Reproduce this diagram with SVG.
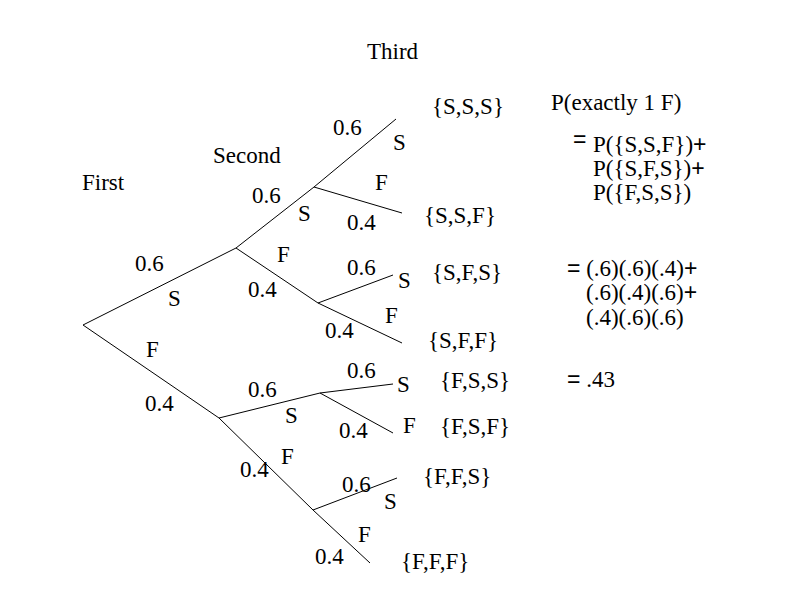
<svg xmlns="http://www.w3.org/2000/svg" width="792" height="612" viewBox="0 0 792 612">
<style>
text{font-family:"Liberation Serif","Times New Roman",serif;font-size:23px;fill:#000}
.op{font-family:"Liberation Sans",Arial,sans-serif}
line{stroke:#000;stroke-width:1;fill:none}
</style>
<rect width="792" height="612" fill="#fff"/>
<g id="connectors">
<line x1="83" y1="325" x2="236" y2="248"/>
<line x1="83" y1="325" x2="219" y2="418"/>
<line x1="236" y1="248" x2="314" y2="187"/>
<line x1="314" y1="187" x2="396" y2="119"/>
<line x1="314" y1="187" x2="402" y2="213"/>
<line x1="236" y1="248" x2="318" y2="303"/>
<line x1="318" y1="303" x2="393" y2="275"/>
<line x1="318" y1="303" x2="402" y2="343"/>
<line x1="219" y1="418" x2="320" y2="393"/>
<line x1="320" y1="393" x2="393" y2="384"/>
<line x1="320" y1="393" x2="393" y2="433"/>
<line x1="219" y1="418" x2="313" y2="510"/>
<line x1="313" y1="510" x2="397" y2="478"/>
<line x1="313" y1="510" x2="370" y2="563"/>
</g>
<g id="headings">
<text x="82" y="190">First</text>
<text x="213" y="163">Second</text>
<text x="367" y="59">Third</text>
</g>
<g id="branch-labels">
<text x="135" y="271">0.6</text>
<text x="168" y="306">S</text>
<text x="146" y="357">F</text>
<text x="145" y="411">0.4</text>
<text x="252" y="203">0.6</text>
<text x="298" y="221">S</text>
<text x="277" y="262">F</text>
<text x="248" y="297">0.4</text>
<text x="248" y="397">0.6</text>
<text x="285" y="423">S</text>
<text x="281" y="464">F</text>
<text x="240" y="477">0.4</text>
<text x="333" y="135">0.6</text>
<text x="393" y="150">S</text>
<text x="375" y="190">F</text>
<text x="347" y="230">0.4</text>
<text x="347" y="275">0.6</text>
<text x="398" y="288">S</text>
<text x="385" y="323">F</text>
<text x="325" y="338">0.4</text>
<text x="347" y="378">0.6</text>
<text x="397" y="392">S</text>
<text x="403" y="433">F</text>
<text x="339" y="438">0.4</text>
<text x="342" y="492">0.6</text>
<text x="384" y="509">S</text>
<text x="358" y="542">F</text>
<text x="315" y="564">0.4</text>
</g>
<g id="outcomes">
<text x="432" y="114">{S,S,S}</text>
<text x="424" y="223">{S,S,F}</text>
<text x="432" y="280">{S,F,S}</text>
<text x="428" y="348">{S,F,F}</text>
<text x="440" y="388">{F,S,S}</text>
<text x="440" y="434">{F,S,F}</text>
<text x="423" y="484">{F,F,S}</text>
<text x="401" y="569">{F,F,F}</text>
</g>
<g id="formula">
<text x="551" y="110">P(exactly 1 F)</text>
<text class="op" x="573" y="147">=</text>
<text x="593" y="152">P({S,S,F})<tspan class="op">+</tspan></text>
<text x="593" y="176">P({S,F,S})<tspan class="op">+</tspan></text>
<text x="593" y="200">P({F,S,S})</text>
<text x="567" y="276"><tspan class="op">=</tspan> (.6)(.6)(.4)<tspan class="op">+</tspan></text>
<text x="586" y="300">(.6)(.4)(.6)<tspan class="op">+</tspan></text>
<text x="586" y="325">(.4)(.6)(.6)</text>
<text x="567" y="387"><tspan class="op">=</tspan> .43</text>
</g>
</svg>
